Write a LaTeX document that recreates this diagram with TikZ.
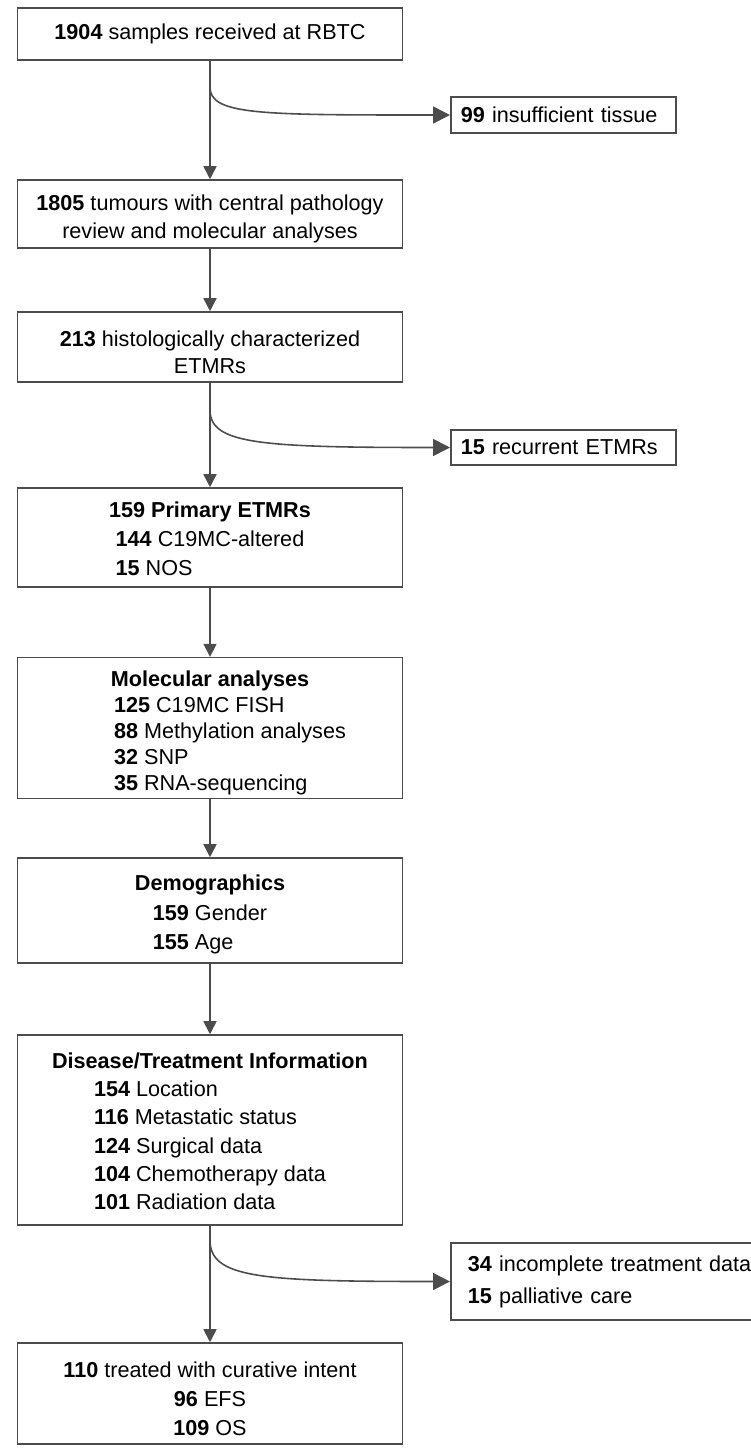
\documentclass[tikz,border=0pt]{standalone}
\usepackage{fontspec}
\setmainfont{Liberation Sans}
\usetikzlibrary{arrows.meta}

\begin{document}
\begin{tikzpicture}[x=0.02cm,y=-0.02cm,
	box/.style={draw=black!70,line width=0.9pt,minimum width=7.7cm,align=center,inner sep=0pt,
		font=\fontsize{12.3}{15.9}\selectfont},
	side/.style={draw=black!70,line width=0.9pt,anchor=west,align=left,inner ysep=0pt,
		font=\fontsize{12.3}{18.2}\selectfont},
	down/.style={draw=black!70,line width=0.9pt,-{Triangle[length=0.26cm,width=0.26cm]}},
	branch/.style={draw=black!70,line width=0.9pt,-{Triangle[length=0.34cm,width=0.34cm]}}]
		\useasboundingbox (0,0) rectangle (751,1448);
		
		% main column (\rule pushes the lines down a little)
		\node[box,minimum height=1.04cm] (b1) at (210,34) {\textbf{1904} samples received at RBTC};
		\node[box,minimum height=1.36cm,font=\fontsize{12.3}{15.4}\selectfont] (b2) at (210,214) {\rule{0pt}{14.5pt}\textbf{1805} tumours with central pathology\\review and molecular analyses};
		\node[box,minimum height=1.4cm,font=\fontsize{12.3}{15.4}\selectfont] (b3) at (210,347) {\rule{0pt}{14.5pt}\textbf{213} histologically characterized\\ETMRs};
		\node[box,minimum height=1.98cm,font=\fontsize{12.3}{16.4}\selectfont] (b4) at (210,537.5) {\rule{0pt}{15pt}\textbf{159 Primary ETMRs}\\
			\begin{tabular}[t]{@{}l@{}}\textbf{144} C19MC-altered\\\textbf{15} NOS\end{tabular}};
		\node[box,minimum height=2.8cm,font=\fontsize{12.3}{14.8}\selectfont] (b5) at (210,728) {\rule{0pt}{16.5pt}\textbf{Molecular analyses}\\
			\hspace*{0.8cm}\begin{tabular}[t]{@{}l@{}}\textbf{125} C19MC FISH\\\textbf{88} Methylation analyses\\\textbf{32} SNP\\\textbf{35} RNA-sequencing\end{tabular}};
		\node[box,minimum height=2.1cm,font=\fontsize{12.3}{17}\selectfont] (b6) at (210,910.5) {\rule{0pt}{16pt}\textbf{Demographics}\\
			\begin{tabular}[t]{@{}l@{}}\textbf{159} Gender\\\textbf{155} Age\end{tabular}};
		\node[box,minimum height=3.8cm,font=\fontsize{12.3}{16.1}\selectfont] (b7) at (210,1130) {\rule{0pt}{15pt}\textbf{Disease/Treatment Information}\\
			\begin{tabular}[t]{@{}l@{}}\textbf{154} Location\\\textbf{116} Metastatic status\\\textbf{124} Surgical data\\\textbf{104} Chemotherapy data\\\textbf{101} Radiation data\end{tabular}};
		\node[box,minimum height=2.02cm,font=\fontsize{12.3}{16.4}\selectfont] (b8) at (210,1393.5) {\rule{0pt}{15pt}\textbf{110} treated with curative intent\\\textbf{96} EFS\\\textbf{109} OS};
		
		% excluded samples
		\node[side,minimum height=0.72cm,inner xsep=0.2cm,text width=4.1cm] (s1) at (450,115) {\textbf{99} insufficient tissue};
		\node[side,minimum height=0.7cm,inner xsep=0.2cm,text width=4.1cm] (s2) at (450,447.5) {\textbf{15} recurrent ETMRs};
		\node[side,minimum height=1.54cm,inner xsep=0.34cm,text width=7cm] (s3) at (450,1281.5) {\textbf{34} incomplete treatment data\\\textbf{15} palliative care};
		
		\foreach \a/\b in {b1/b2,b2/b3,b3/b4,b4/b5,b5/b6,b6/b7,b7/b8}
		{
			\draw[down] (\a) -- (\b);
		}
		
		\coordinate (k1) at (210,87);
		\coordinate (k2) at (210,410);
		\coordinate (k3) at (210,1240);
		\draw[branch] (k1) .. controls +(0,28) and +(-190,0) .. (s1.west);
		\draw[branch] (k2) .. controls +(0,34) and +(-190,0) .. (s2.west);
		\draw[branch] (k3) .. controls +(0,38) and +(-190,0) .. (s3.west);
\end{tikzpicture}
\end{document}
